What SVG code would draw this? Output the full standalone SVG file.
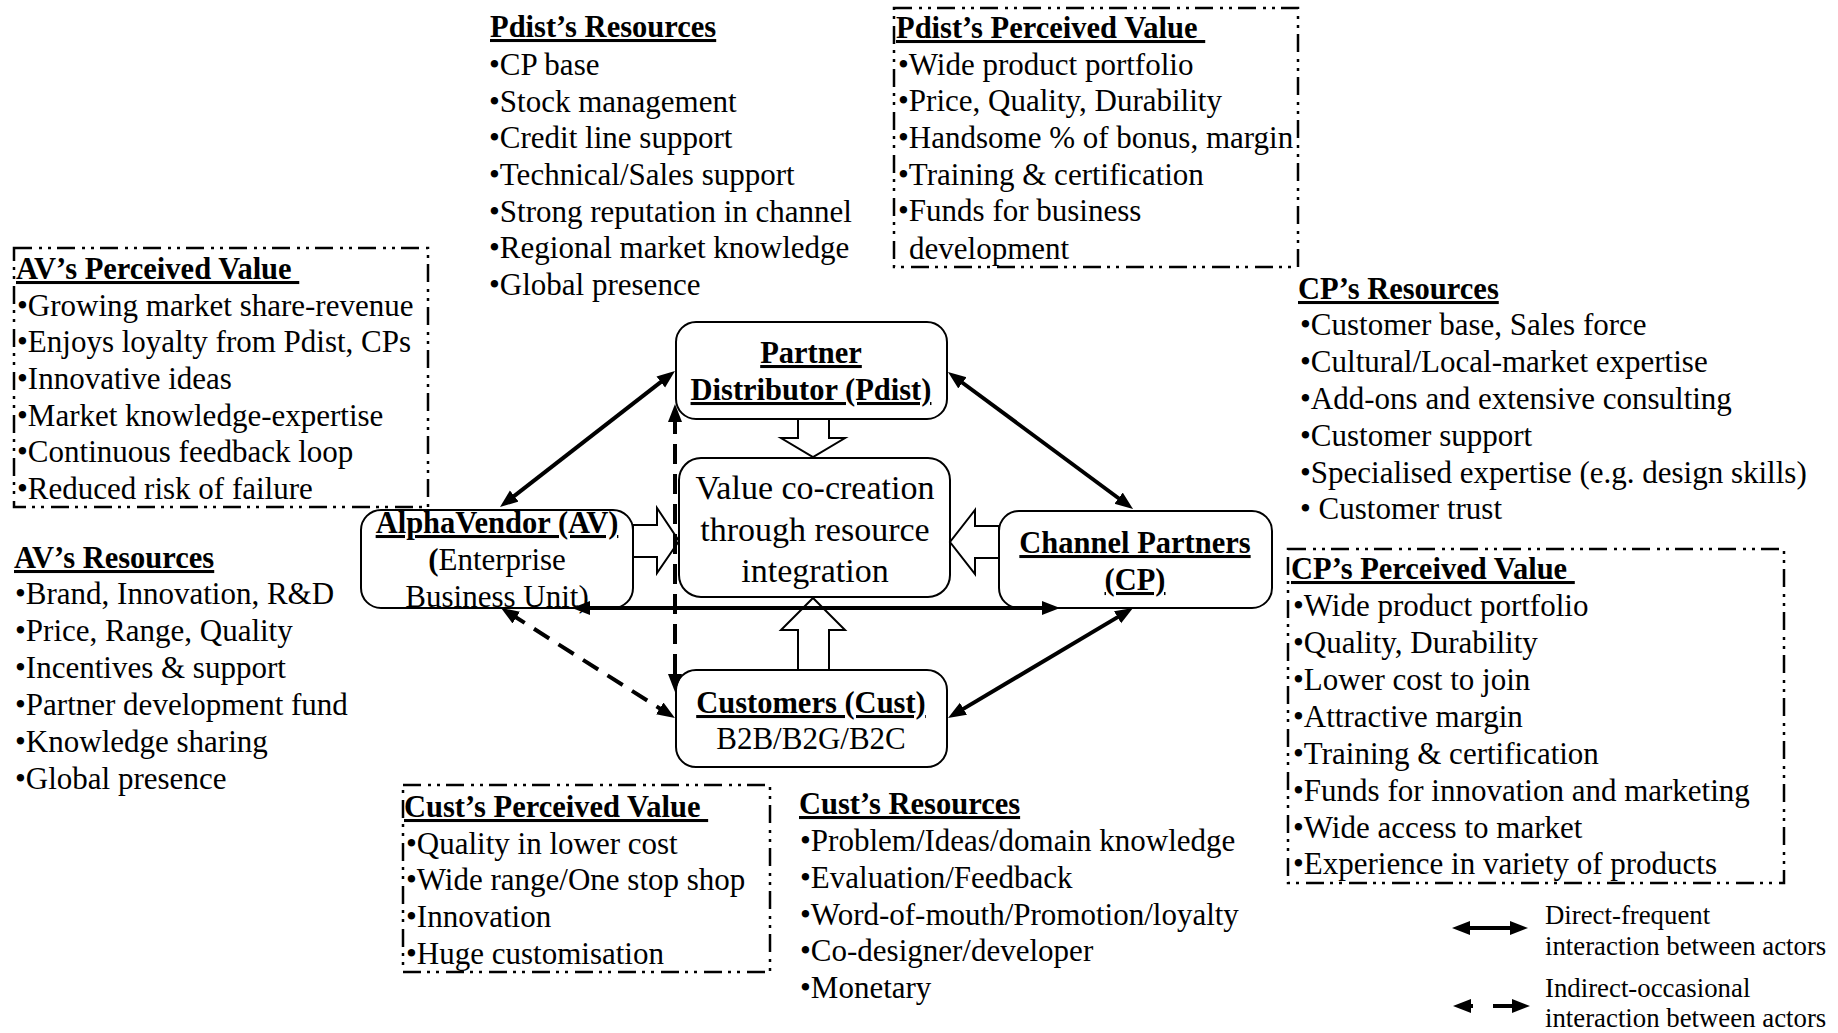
<svg xmlns="http://www.w3.org/2000/svg" width="1838" height="1033" viewBox="0 0 1838 1033">
<defs>
<style>
text { font-family: "Liberation Serif", "Times New Roman", serif; font-size: 31px; fill: #000; }
.h { font-weight: bold; font-size: 30.5px; text-decoration: underline; }
.b { font-weight: bold; font-size: 30.5px; text-decoration: underline; text-anchor: middle; }
.c { text-anchor: middle; }
.v { font-size: 34px; text-anchor: middle; }
.lg { font-size: 26.8px; }
.node { fill: #fff; stroke: #000; stroke-width: 2; }
.box { fill: none; stroke: #000; stroke-width: 2.5; stroke-dasharray: 18 7 3 6 3 6; }
.blk { fill: #fff; stroke: #000; stroke-width: 2; stroke-linejoin: miter; }
.conn { stroke: #000; stroke-width: 4; fill: none; marker-start: url(#ah); marker-end: url(#ah); }
.dash { stroke-dasharray: 18 11; }
</style>
<marker id="ah" markerUnits="userSpaceOnUse" markerWidth="20" markerHeight="16" refX="8" refY="7" orient="auto-start-reverse" viewBox="0 0 20 16">
<path d="M0,0 L18,7 L0,14 z" fill="#000"/>
</marker>
</defs>
<rect width="1838" height="1033" fill="#fff"/>

<g id="pdist-resources">
<text class="h" x="490" y="37">Pdist’s Resources</text>
<text x="489" y="75">•CP base</text>
<text x="489" y="112">•Stock management</text>
<text x="489" y="148">•Credit line support</text>
<text x="489" y="185">•Technical/Sales support</text>
<text x="489" y="222">•Strong reputation in channel</text>
<text x="489" y="258">•Regional market knowledge</text>
<text x="489" y="295">•Global presence</text>
</g>

<g id="pdist-value">
<rect class="box" x="894" y="8" width="404" height="259"/>
<text class="h" x="896" y="38">Pdist’s Perceived Value&#160;</text>
<text x="898" y="75">•Wide product portfolio</text>
<text x="898" y="111">•Price, Quality, Durability</text>
<text x="898" y="148">•Handsome % of bonus, margin</text>
<text x="898" y="185">•Training &amp; certification</text>
<text x="898" y="221">•Funds for business</text>
<text x="909" y="259">development</text>
</g>

<g id="av-value">
<rect class="box" x="14" y="248" width="414" height="259"/>
<text class="h" x="16" y="279">AV’s Perceived Value&#160;</text>
<text x="17" y="316">•Growing market share-revenue</text>
<text x="17" y="352">•Enjoys loyalty from Pdist, CPs</text>
<text x="17" y="389">•Innovative ideas</text>
<text x="17" y="426">•Market knowledge-expertise</text>
<text x="17" y="462">•Continuous feedback loop</text>
<text x="17" y="499">•Reduced risk of failure</text>
</g>

<g id="av-resources">
<text class="h" x="14" y="568">AV’s Resources</text>
<text x="15" y="604">•Brand, Innovation, R&amp;D</text>
<text x="15" y="641">•Price, Range, Quality</text>
<text x="15" y="678">•Incentives &amp; support</text>
<text x="15" y="715">•Partner development fund</text>
<text x="15" y="752">•Knowledge sharing</text>
<text x="15" y="789">•Global presence</text>
</g>

<g id="cp-resources">
<text class="h" x="1298" y="299">CP’s Resources</text>
<text x="1300" y="335">•Customer base, Sales force</text>
<text x="1300" y="372">•Cultural/Local-market expertise</text>
<text x="1300" y="409">•Add-ons and extensive consulting</text>
<text x="1300" y="446">•Customer support</text>
<text x="1300" y="483">•Specialised expertise (e.g. design skills)</text>
<text x="1300" y="519">• Customer trust</text>
</g>

<g id="cp-value">
<rect class="box" x="1288" y="549" width="496" height="334"/>
<text class="h" x="1291" y="579">CP’s Perceived Value&#160;</text>
<text x="1293" y="616">•Wide product portfolio</text>
<text x="1293" y="653">•Quality, Durability</text>
<text x="1293" y="690">•Lower cost to join</text>
<text x="1293" y="727">•Attractive margin</text>
<text x="1293" y="764">•Training &amp; certification</text>
<text x="1293" y="801">•Funds for innovation and marketing</text>
<text x="1293" y="838">•Wide access to market</text>
<text x="1293" y="874">•Experience in variety of products</text>
</g>

<g id="cust-value">
<rect class="box" x="403" y="785" width="367" height="187"/>
<text class="h" x="404" y="817">Cust’s Perceived Value&#160;</text>
<text x="406" y="854">•Quality in lower cost</text>
<text x="406" y="890">•Wide range/One stop shop</text>
<text x="406" y="927">•Innovation</text>
<text x="406" y="964">•Huge customisation</text>
</g>

<g id="cust-resources">
<text class="h" x="799" y="814">Cust’s Resources</text>
<text x="800" y="851">•Problem/Ideas/domain knowledge</text>
<text x="800" y="888">•Evaluation/Feedback</text>
<text x="800" y="925">•Word-of-mouth/Promotion/loyalty</text>
<text x="800" y="961">•Co-designer/developer</text>
<text x="800" y="998">•Monetary</text>
</g>

<g id="node-pdist">
<rect class="node" x="676" y="322" width="271" height="97" rx="20"/>
<text class="b" x="811" y="363">Partner</text>
<text class="b" x="811" y="400">Distributor (Pdist)</text>
</g>

<g id="node-value">
<rect class="node" x="679" y="458" width="271" height="139" rx="22"/>
<text class="v" x="815" y="499">Value co-creation</text>
<text class="v" x="815" y="541">through resource</text>
<text class="v" x="815" y="582">integration</text>
</g>

<g id="node-av">
<rect class="node" x="361" y="510" width="272" height="98" rx="20"/>
<text class="b" x="497" y="533">AlphaVendor (AV)</text>
<text class="c" x="497" y="570"><tspan font-weight="bold">(</tspan>Enterprise</text>
<text class="c" x="497" y="607">Business Unit)</text>
</g>

<g id="node-cp">
<rect class="node" x="999" y="511" width="273" height="97" rx="20"/>
<text class="b" x="1135" y="553">Channel Partners</text>
<text class="b" x="1135" y="590">(CP)</text>
</g>

<g id="node-cust">
<rect class="node" x="676" y="670" width="271" height="97" rx="20"/>
<text class="b" x="811" y="713">Customers (Cust)</text>
<text class="c" x="811" y="749">B2B/B2G/B2C</text>
</g>

<g id="connectors">
<polygon class="blk" points="798,419 798,438 781,438 813,457 845,438 829,438 829,419"/>
<polygon class="blk" points="798,670 798,630 781,630 813,598 845,630 829,630 829,670"/>
<polygon class="blk" points="633,525 657,525 657,508 679,541 657,573 657,557 633,557"/>
<polygon class="blk" points="999,526 975,526 975,510 950,542 975,574 975,558 999,558"/>
<line class="conn" x1="507.9" y1="500.9" x2="667.1" y2="377.1"/>
<line class="conn" x1="956" y1="378" x2="1125" y2="503"/>
<line class="conn" x1="582" y1="608" x2="1050" y2="608"/>
<line class="conn" x1="1124.4" y1="613.1" x2="956.6" y2="712.9"/>
<line class="conn dash" x1="509.5" y1="613.3" x2="666.5" y2="712.7"/>
<line class="conn dash" x1="675" y1="414" x2="675" y2="682" style="stroke-dasharray:20 10"/>
</g>

<g id="legend">
<line class="conn" x1="1462" y1="928" x2="1518" y2="928"/>
<text class="lg" x="1545" y="924">Direct-frequent</text>
<text class="lg" x="1545" y="955">interaction between actors</text>
<line class="conn" x1="1463" y1="1006" x2="1520" y2="1006" style="stroke-dasharray:10 20 30"/>
<text class="lg" x="1545" y="997">Indirect-occasional</text>
<text class="lg" x="1545" y="1027">interaction between actors</text>
</g>
</svg>
